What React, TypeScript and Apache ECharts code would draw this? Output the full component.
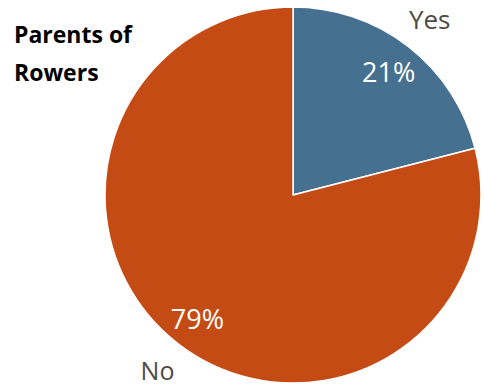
import React, { useEffect, useRef } from "react";
import * as echarts from "echarts";

const categories = ["Yes", "No"];
const values = [21, 79];
const colors = ["#46708F", "#C54B15"];
const titleText = "Parents of\nRowers";

export default function App() {
  const ref = useRef<HTMLDivElement>(null);
  useEffect(() => {
    if (!ref.current) return;
    const chart = echarts.init(ref.current, null, { renderer: "svg" });
    const font = "'Open Sans', sans-serif";
    const data = categories.map((name, i) => ({
      name,
      value: values[i],
      itemStyle: { color: colors[i] },
    }));
    const transparentData = categories.map((name, i) => ({
      name,
      value: values[i],
      itemStyle: { color: "transparent" },
    }));
    const nameLabelData = (showIndex: number) =>
      categories.map((name, i) => ({
        name,
        value: values[i],
        itemStyle: { color: "transparent" },
        label: { show: i === showIndex },
      }));
    const nameLabel = {
      show: true,
      position: "inside",
      formatter: "{b}",
      color: "#4F4A45",
      fontFamily: font,
      fontSize: 26,
      overflow: "none",
    };
    chart.setOption({
      animation: false,
      title: {
        text: titleText,
        left: 9,
        top: 10,
        textStyle: {
          fontFamily: font,
          fontWeight: "bold",
          fontSize: 23,
          lineHeight: 38,
          color: "#000000",
        },
      },
      series: [
        {
          type: "pie",
          center: [293, 195],
          radius: [0, 188],
          startAngle: 90,
          clockwise: true,
          silent: true,
          data,
          itemStyle: { borderColor: "#ffffff", borderWidth: 1.5 },
          label: { show: false },
          labelLine: { show: false },
        },
        {
          type: "pie",
          center: [293, 195],
          radius: [118, 188],
          startAngle: 90,
          clockwise: true,
          silent: true,
          data: transparentData,
          label: {
            show: true,
            position: "inside",
            formatter: "{c}%",
            color: "#ffffff",
            fontFamily: font,
            fontSize: 27,
            overflow: "none",
          },
          labelLine: { show: false },
        },
        {
          type: "pie",
          center: [293, 195],
          radius: [207, 233],
          startAngle: 90,
          clockwise: true,
          silent: true,
          data: nameLabelData(0),
          label: nameLabel,
          labelLine: { show: false },
        },
        {
          type: "pie",
          center: [293, 195],
          radius: [205, 231],
          startAngle: 90,
          clockwise: true,
          silent: true,
          data: nameLabelData(1),
          label: { ...nameLabel, fontSize: 25 },
          labelLine: { show: false },
        },
      ],
    });
    return () => chart.dispose();
  }, []);
  return (
    <div
      ref={ref}
      style={{ position: "fixed", left: 0, top: 0, width: 484, height: 387, background: "#ffffff" }}
    />
  );
}
